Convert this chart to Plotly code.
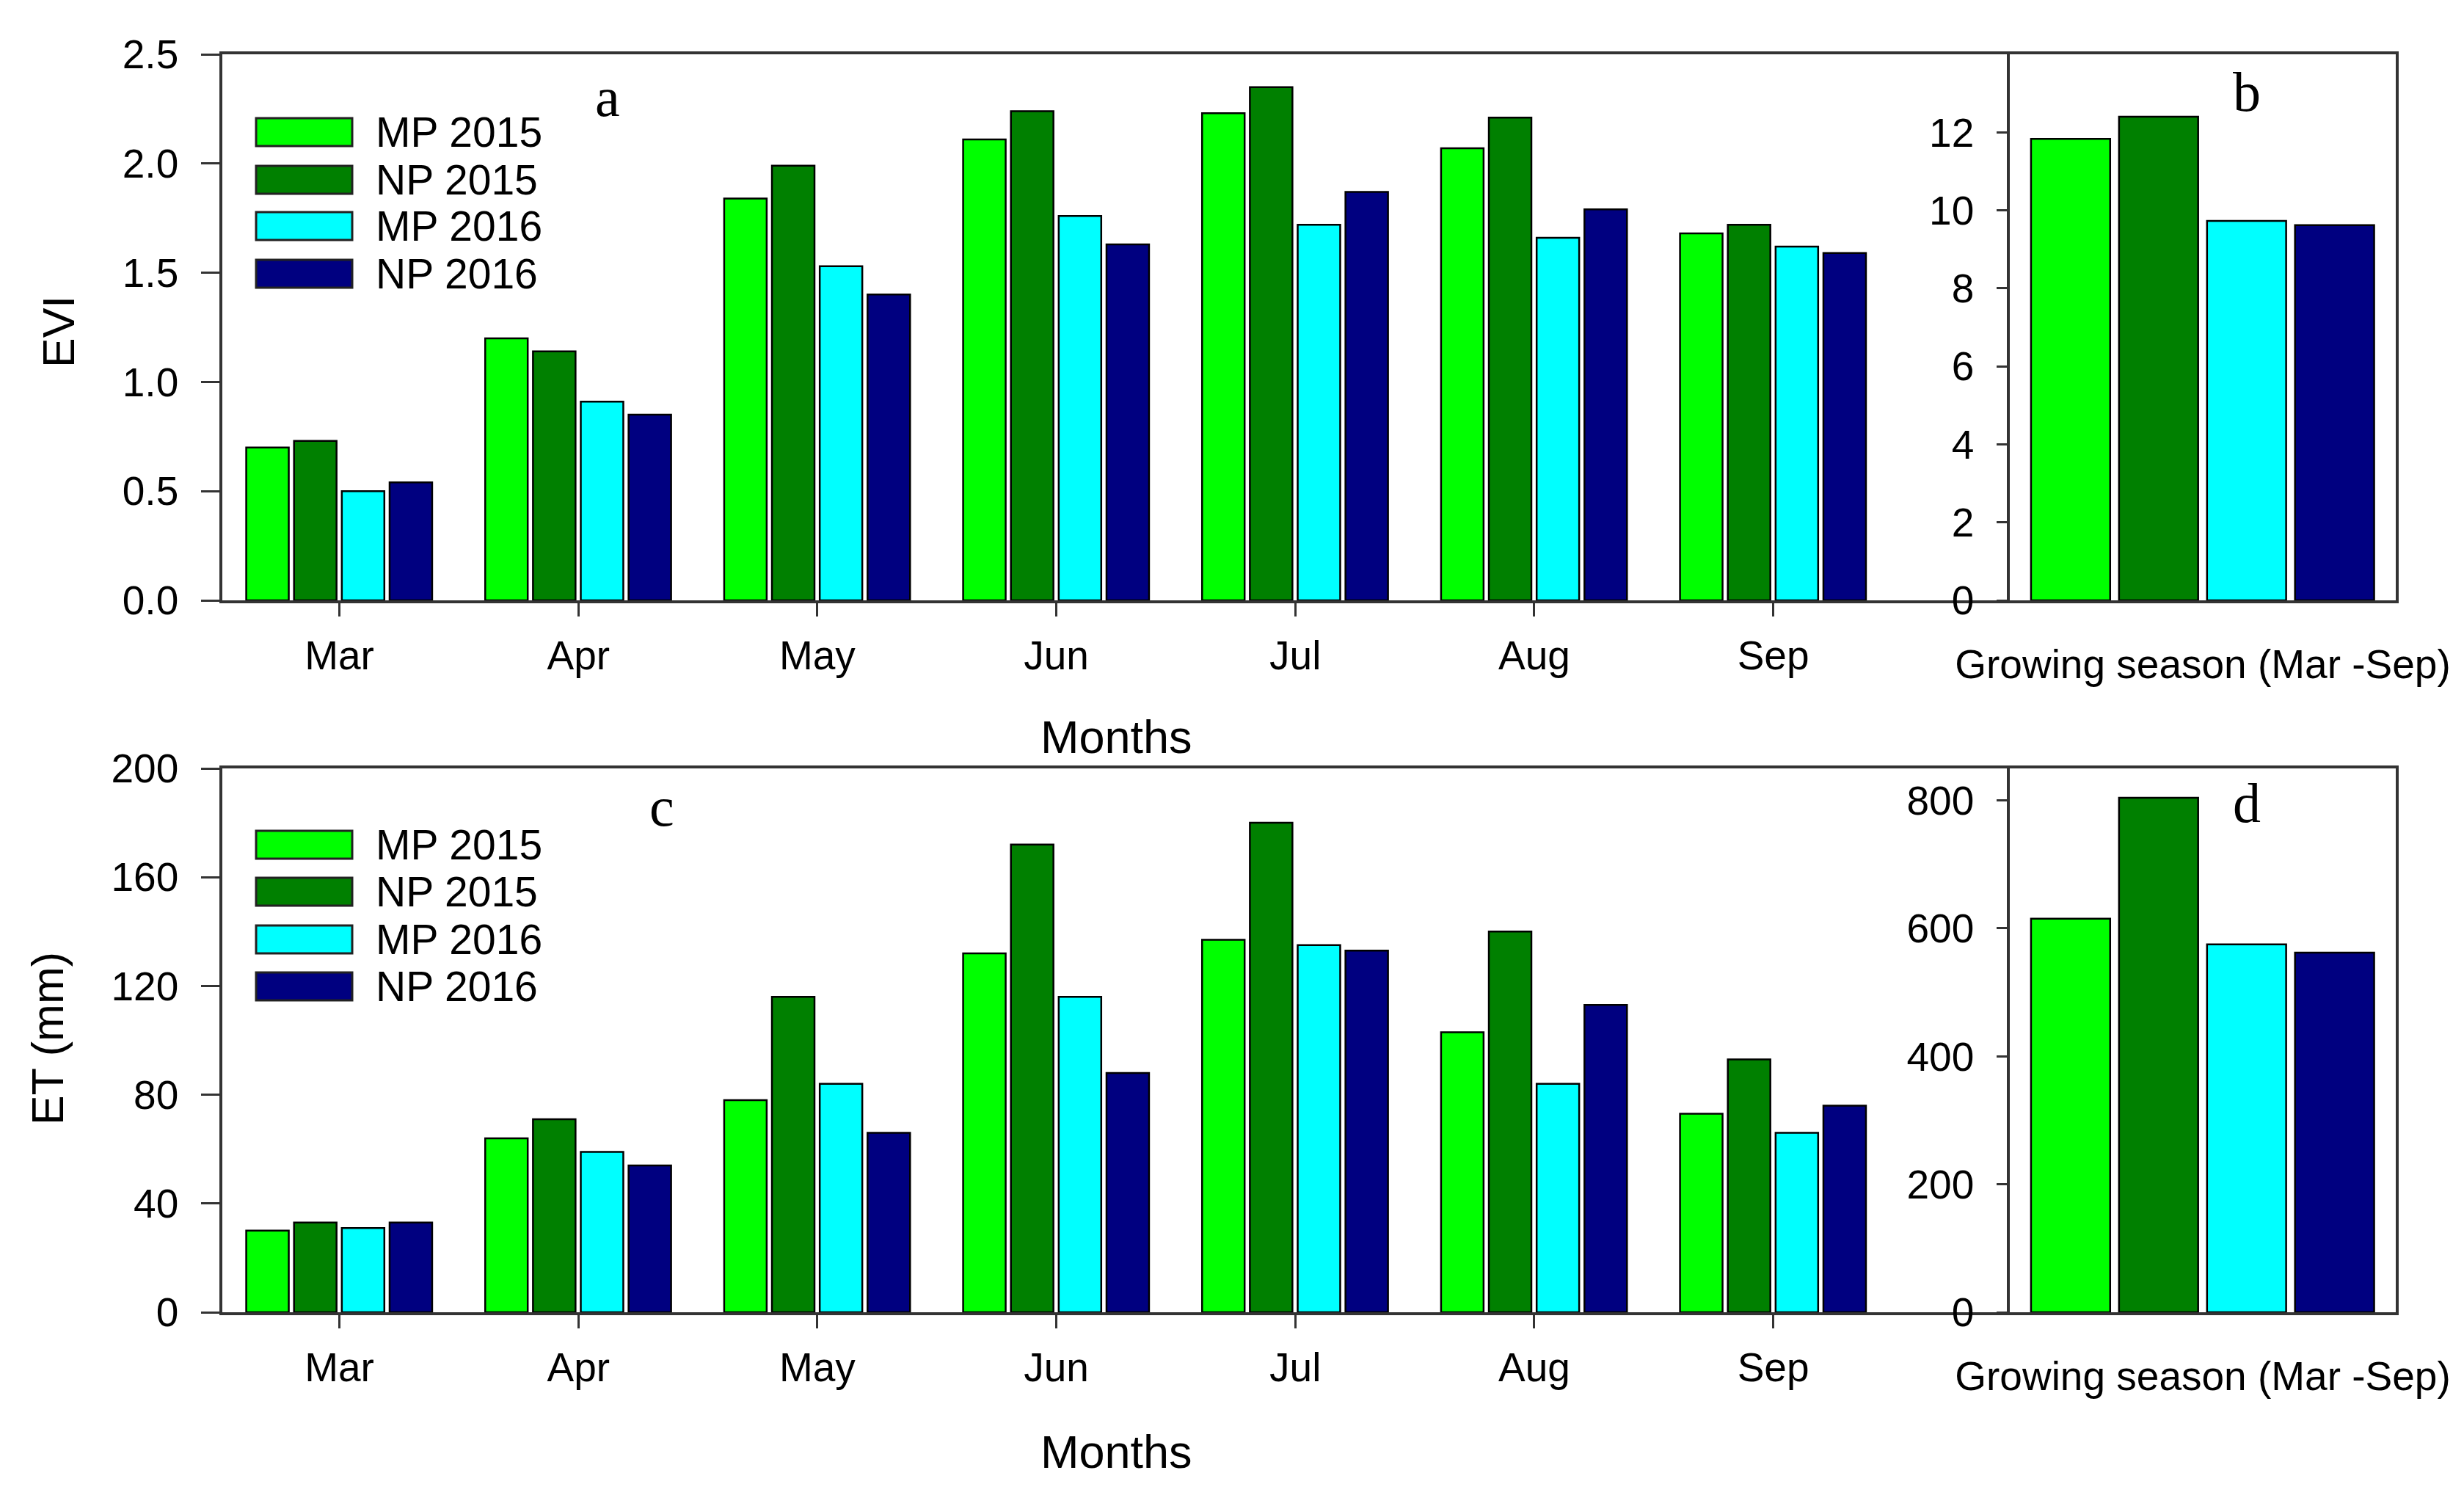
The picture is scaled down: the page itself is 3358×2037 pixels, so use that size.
import plotly.graph_objects as go

W, H = 3358, 2037

months = ["Mar", "Apr", "May", "Jun", "Jul", "Aug", "Sep"]
series_names = ["MP 2015", "NP 2015", "MP 2016", "NP 2016"]
colors = ["#00FF00", "#008000", "#00FFFF", "#000080"]

evi_mp2015 = [0.70, 1.20, 1.84, 2.11, 2.23, 2.07, 1.68]
evi_np2015 = [0.73, 1.14, 1.99, 2.24, 2.35, 2.21, 1.72]
evi_mp2016 = [0.50, 0.91, 1.53, 1.76, 1.72, 1.66, 1.62]
evi_np2016 = [0.54, 0.85, 1.40, 1.63, 1.87, 1.79, 1.59]

et_mp2015 = [30, 64, 78, 132, 137, 103, 73]
et_np2015 = [33, 71, 116, 172, 180, 140, 93]
et_mp2016 = [31, 59, 84, 116, 135, 84, 66]
et_np2016 = [33, 54, 66, 88, 133, 113, 76]

season = ["Growing season (Mar -Sep)"]
evi_season = [11.83, 12.40, 9.73, 9.62]
et_season = [615, 804, 575, 562]

evi_monthly = [evi_mp2015, evi_np2015, evi_mp2016, evi_np2016]
et_monthly = [et_mp2015, et_np2015, et_mp2016, et_np2016]

FONT = "Liberation Sans, Arial, sans-serif"
SERIF = "Liberation Serif, Times New Roman, serif"
AX = "#333333"

fig = go.Figure()

# monthly bars (panels a and c)
mw, mstart, mpitch = 0.178, -0.39, 0.2
for k in range(4):
    fig.add_trace(go.Bar(x=months, y=evi_monthly[k], name=series_names[k],
                         marker=dict(color=colors[k], line=dict(color="black", width=2.5)),
                         width=mw, offset=mstart + k * mpitch, showlegend=False,
                         xaxis="x", yaxis="y"))
    fig.add_trace(go.Bar(x=months, y=et_monthly[k], name=series_names[k],
                         marker=dict(color=colors[k], line=dict(color="black", width=2.5)),
                         width=mw, offset=mstart + k * mpitch, showlegend=False,
                         xaxis="x3", yaxis="y3"))

# season bars (panels b and d)
sw, sstart, spitch = 0.205, -0.445, 0.228
for k in range(4):
    fig.add_trace(go.Bar(x=season, y=[evi_season[k]], name=series_names[k],
                         marker=dict(color=colors[k], line=dict(color="black", width=2.5)),
                         width=sw, offset=sstart + k * spitch, showlegend=False,
                         xaxis="x2", yaxis="y2"))
    fig.add_trace(go.Bar(x=season, y=[et_season[k]], name=series_names[k],
                         marker=dict(color=colors[k], line=dict(color="black", width=2.5)),
                         width=sw, offset=sstart + k * spitch, showlegend=False,
                         xaxis="x4", yaxis="y4"))

# the page body has an 8 px default margin; positions are given in screen pixels
OFF = 8

def px(x):
    return (x - OFF) / W

def py(y):
    return 1 - (y - OFF) / H

dom_left = [px(303), px(2739)]
dom_right = [px(2739), px(3265)]
dom_top = [py(818), py(74)]
dom_bot = [py(1788), py(1047)]

tickfont = dict(family=FONT, size=55, color="black")

def xax(domain, anchor, rng, ticks, ticklen, standoff):
    return dict(domain=domain, anchor=anchor, range=rng, showline=True, linecolor=AX,
                linewidth=3.5, mirror=True, ticks=ticks, ticklen=ticklen, tickwidth=3,
                tickcolor=AX, showgrid=False, zeroline=False, tickfont=tickfont,
                ticklabelstandoff=standoff, fixedrange=True, automargin=False)

def yax(domain, anchor, rng, tickvals, ticklen, mirror, fmt=None):
    d = dict(domain=domain, anchor=anchor, range=rng, showline=True, linecolor=AX,
             linewidth=3.5, mirror=mirror, ticks="outside", ticklen=ticklen, tickwidth=3,
             tickcolor=AX, showgrid=False, zeroline=False, tickfont=tickfont,
             tickvals=tickvals, ticklabelstandoff=20, fixedrange=True, automargin=False)
    if fmt:
        d["tickformat"] = fmt
    return d

fig.update_layout(
    width=W, height=H, autosize=False,
    margin=dict(l=0, r=0, t=0, b=0, pad=0),
    paper_bgcolor="white", plot_bgcolor="white",
    barmode="overlay",
    showlegend=False,
    xaxis=xax(dom_left, "y", [-0.49, 6.99], "outside", 18, 6),
    yaxis=yax(dom_top, "x", [0, 2.5], [0, 0.5, 1.0, 1.5, 2.0, 2.5], 25, False, ".1f"),
    xaxis2=xax(dom_right, "y2", [-0.5, 0.5], "", 0, 36),
    yaxis2=yax(dom_top, "x2", [0, 14], [0, 2, 4, 6, 8, 10, 12], 14, True),
    xaxis3=xax(dom_left, "y3", [-0.49, 6.99], "outside", 18, 6),
    yaxis3=yax(dom_bot, "x3", [0, 200], [0, 40, 80, 120, 160, 200], 25, False),
    xaxis4=xax(dom_right, "y4", [-0.5, 0.5], "", 0, 36),
    yaxis4=yax(dom_bot, "x4", [0, 850], [0, 200, 400, 600, 800], 14, True),
)

ann = []
shapes = []

# axis titles
ann.append(dict(text="EVI", x=px(80), y=py(452), xref="paper", yref="paper", textangle=-90,
                showarrow=False, font=dict(family=FONT, size=61, color="black"),
                xanchor="center", yanchor="middle"))
ann.append(dict(text="ET (mm)", x=px(65), y=py(1415), xref="paper", yref="paper", textangle=-90,
                showarrow=False, font=dict(family=FONT, size=61, color="black"),
                xanchor="center", yanchor="middle"))
for yc in (1004, 1978):
    ann.append(dict(text="Months", x=px(1521), y=py(yc), xref="paper", yref="paper",
                    showarrow=False, font=dict(family=FONT, size=63, color="black"),
                    xanchor="center", yanchor="middle"))

# panel letters
for letter, xc, yc in (("a", 828, 132), ("b", 3062, 125), ("c", 902, 1099), ("d", 3062, 1094)):
    ann.append(dict(text=letter, x=px(xc), y=py(yc), xref="paper", yref="paper",
                    showarrow=False, font=dict(family=SERIF, size=76, color="black"),
                    xanchor="center", yanchor="middle"))

# custom legends
legend_rows = [[180, 245, 308, 373], [1151, 1215, 1280, 1344]]
for rows in legend_rows:
    for k, yc in enumerate(rows):
        shapes.append(dict(type="rect", xref="paper", yref="paper",
                           x0=px(349), x1=px(480), y0=py(yc + 19), y1=py(yc - 19),
                           fillcolor=colors[k], line=dict(color="#222222", width=3)))
        ann.append(dict(text=series_names[k], x=px(510), y=py(yc), xref="paper", yref="paper",
                        showarrow=False, font=dict(family=FONT, size=57, color="black"),
                        xanchor="left", yanchor="middle"))

fig.update_layout(annotations=ann, shapes=shapes)

fig.write_html("out.html")
